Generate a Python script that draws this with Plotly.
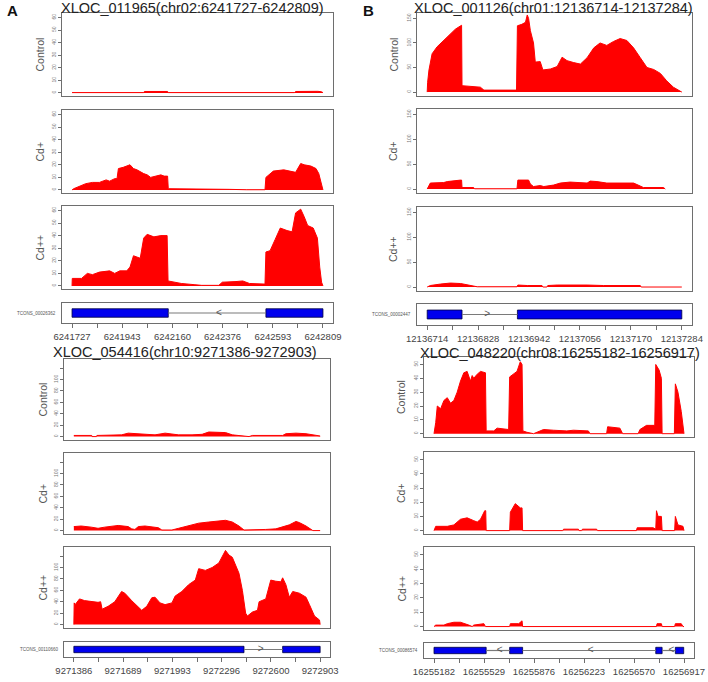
import plotly.graph_objects as go

W, H = 708, 682

# ---------------- DATA ----------------
# Panel A (top): XLOC_011965
A1_TITLE = "XLOC_011965(chr02:6241727-6242809)"
A1_START, A1_END = 6241727, 6242809
A1_TICKS = [6241727, 6241943, 6242160, 6242376, 6242593, 6242809]
A1_YTICKS = [0, 10, 20, 30, 40, 50, 60]
A1_CTRL_OFF = [0, 309, 312, 412, 415, 960, 964, 1040, 1060, 1075, 1082]
A1_CTRL_VAL = [0.3, 0.3, 1.2, 1.2, 0.3, 0.3, 1.2, 1.5, 1.3, 1.0, 0.3]
A1_CD1_OFF = [0, 7, 59, 88, 118, 147, 162, 184, 194, 200, 221, 250, 265, 280, 309, 324, 339, 361,
              383, 397, 412, 415, 471, 500, 559, 618, 677, 751, 832, 836, 854, 868, 913, 942, 964,
              986, 1001, 1030, 1052, 1064, 1074, 1082]
A1_CD1_VAL = [0, 1, 5, 6, 6, 8, 7, 9, 9, 17, 18, 20, 17, 16, 13, 12, 10, 11,
              12, 11, 11, 1, 1, 0.6, 0.5, 0.7, 0.5, 0.2, 0.2, 10, 13, 15, 16, 15, 14,
              21, 20, 19, 17, 13, 5, 0]
A1_CD2_OFF = [0, 1, 41, 66, 88, 118, 162, 184, 206, 236, 250, 265, 294, 309, 324, 353, 383, 410,
              414, 442, 471, 530, 559, 633, 648, 707, 736, 765, 832, 836, 854, 876, 898, 927, 949,
              964, 986, 1001, 1016, 1040, 1058, 1068, 1076, 1082]
A1_CD2_VAL = [0, 6, 6, 10, 9, 11, 12, 10, 12, 12, 15, 24, 22, 38, 41, 39, 40, 40,
              4, 3, 2, 1, 0.5, 0.5, 3, 3.5, 4, 2, 1.5, 27, 28, 37, 46, 44, 43,
              58, 61, 55, 48, 46, 38, 15, 3, 0]
A1_EXON_START = [0, 836]
A1_EXON_END = [415, 1082]
A1_ARROW = [633]
A1_STRAND = "-"
A1_TX = "TCONS_00026362"

# Panel B (top): XLOC_001126
B1_TITLE = "XLOC_001126(chr01:12136714-12137284)"
B1_START, B1_END = 12136714, 12137284
B1_TICKS = [12136714, 12136828, 12136942, 12137056, 12137170, 12137284]
B1_YTICKS = [0, 50, 100, 150]
B1_CTRL_OFF = [0, 1, 4, 11, 22, 37, 52, 63, 75, 77, 78, 97, 119, 127, 156, 186, 200, 202, 212, 220,
               224, 227, 231, 238, 242, 253, 259, 276, 291, 302, 313, 328, 343, 358, 373, 387, 402,
               417, 432, 447, 462, 477, 492, 507, 522, 536, 551, 566, 570]
B1_CTRL_VAL = [0, 20, 45, 78, 92, 105, 119, 128, 135, 136, 13, 12, 10, 4, 4, 3, 4, 135, 138, 142,
               157, 150, 125, 100, 61, 62, 45, 47, 52, 71, 64, 60, 57, 70, 90, 100, 95,
               103, 109, 105, 90, 70, 50, 46, 38, 23, 10, 2, 0]
B1_CD1_OFF = [0, 4, 7, 37, 45, 75, 77, 78, 104, 106, 201, 203, 227, 231, 238, 253, 261, 283, 298,
              320, 343, 358, 365, 380, 402, 432, 462, 477, 484, 529, 533]
B1_CD1_VAL = [0, 8, 12, 13, 15, 18, 18, 3, 3, 0.5, 0.5, 18, 18, 10, 5, 7, 5, 8, 12,
              14, 13, 12, 16, 15, 12, 12, 12, 6, 3, 3, 0]
B1_CD2_OFF = [0, 4, 7, 30, 52, 75, 89, 112, 201, 203, 224, 257, 259, 268, 270, 291, 358, 395,
              477, 479, 570]
B1_CD2_VAL = [0, 1, 3, 6, 8, 7, 4, 0.5, 0.5, 4, 3, 3, 0, 0, 3, 4, 4, 3,
              3, 0, 0]
B1_EXON_START = [0, 202]
B1_EXON_END = [78, 570]
B1_ARROW = [134]
B1_STRAND = "+"
B1_TX = "TCONS_00002447"

# Panel A (bottom): XLOC_054416
A2_TITLE = "XLOC_054416(chr10:9271386-9272903)"
A2_START, A2_END = 9271386, 9272903
A2_TICKS = [9271386, 9271689, 9271993, 9272296, 9272600, 9272903]
A2_YTICKS = [0, 20, 40, 60, 80, 100, 120]
A2_CTRL_OFF = [0, 110, 112, 140, 142, 231, 294, 335, 376, 438, 500, 562, 604, 645, 728, 790, 831,
               893, 934, 976, 1038, 1079, 1100, 1286, 1306, 1368, 1430, 1472, 1517]
A2_CTRL_VAL = [2, 2, 0, 0, 2, 2, 3, 6, 5, 4, 3, 6, 5, 3, 3, 4, 8,
               8, 7, 3, 1, 0, 2, 2, 5, 6, 5, 3, 1]
A2_CD1_OFF = [0, 45, 107, 149, 190, 231, 273, 335, 356, 376, 397, 438, 480, 521, 542, 604, 645,
              686, 728, 769, 831, 872, 934, 976, 1017, 1048, 1100, 1182, 1244, 1286, 1327, 1368,
              1389, 1430, 1461, 1472, 1517]
A2_CD1_VAL = [7, 8, 6, 4, 6, 8, 9, 7, 3, 2, 7, 8, 7, 5, 1, 1, 4,
              7, 10, 13, 15, 16, 18, 15, 8, 1, 1, 2, 3, 6, 10, 16,
              14, 8, 3, 0, 0]
A2_CD2_OFF = [0, 2, 8, 35, 66, 107, 149, 165, 174, 211, 252, 294, 314, 356, 397, 418, 449, 480,
              500, 531, 562, 604, 624, 665, 707, 748, 769, 810, 852, 893, 934, 955, 976, 996,
              1017, 1038, 1058, 1069, 1100, 1131, 1141, 1182, 1213, 1244, 1275, 1286, 1306,
              1327, 1348, 1389, 1430, 1451, 1482, 1513, 1517]
A2_CD2_VAL = [0, 38, 35, 45, 42, 40, 39, 40, 27, 32, 40, 58, 55, 42, 30, 25, 32, 47,
              48, 38, 35, 38, 50, 58, 70, 78, 98, 95, 100, 108, 130, 122, 118, 105,
              90, 60, 20, 15, 22, 25, 40, 45, 78, 76, 75, 82, 70,
              48, 58, 55, 48, 35, 15, 8, 0]
A2_EXON_START = [0, 1286]
A2_EXON_END = [1048, 1517]
A2_ARROW = [1151]
A2_STRAND = "+"
A2_TX = "TCONS_00110660"

# Panel B (bottom): XLOC_048220
B2_TITLE = "XLOC_048220(chr08:16255182-16256917)"
B2_START, B2_END = 16255182, 16256917
B2_TICKS = [16255182, 16255529, 16255876, 16256223, 16256570, 16256917]
B2_YTICKS = [0, 10, 20, 30, 40, 50]
B2_CTRL_OFF = [0, 12, 23, 46, 69, 92, 115, 138, 161, 184, 207, 230, 253, 265, 276, 300, 323, 346,
               357, 362, 415, 438, 507, 518, 525, 576, 599, 611, 617, 645, 691, 714, 760, 829,
               922, 968, 1071, 1083, 1198, 1205, 1290, 1309, 1417, 1429, 1475, 1532, 1539, 1562,
               1578, 1583, 1668, 1675, 1693, 1716, 1728, 1735]
B2_CTRL_VAL = [0, 8, 20, 18, 24, 26, 22, 24, 30, 38, 44, 45, 38, 42, 40, 43, 45, 44,
               44, 2, 2, 4, 3, 3, 41, 45, 52, 50, 2, 1, 0, 1, 3, 2.5,
               2, 2.5, 2, 0, 0, 5, 4, 0, 0, 3, 6, 6, 50, 46,
               40, 0, 0, 36, 30, 16, 8, 0]
B2_CD1_OFF = [0, 12, 92, 138, 184, 230, 276, 300, 323, 352, 359, 362, 525, 530, 564, 599, 611, 615,
              894, 899, 1002, 1007, 1025, 1030, 1129, 1134, 1405, 1410, 1521, 1539, 1544, 1555,
              1578, 1583, 1670, 1675, 1693, 1728, 1735]
B2_CD1_VAL = [0, 3, 3, 4, 8, 9, 7, 6, 8, 14, 14, 0, 0, 13, 19, 16, 16, 0,
              0, 1, 1, 0, 0, 1, 1, 0, 0, 2, 2, 1, 14, 10,
              10, 0, 0, 10, 4, 3, 0]
B2_CD2_OFF = [0, 12, 69, 92, 138, 184, 242, 265, 276, 346, 357, 525, 530, 588, 611, 615, 1544, 1548,
              1578, 1583, 1670, 1675, 1716, 1728, 1735]
B2_CD2_VAL = [0, 1, 1, 2, 3, 3, 1, 0, 1, 2, 0, 0, 2, 2, 4, 0, 0, 2,
              2, 0, 0, 2, 2, 0, 0]
B2_EXON_START = [0, 525, 1539, 1675]
B2_EXON_END = [362, 615, 1583, 1733]
B2_ARROW = [456, 1087, 1647]
B2_STRAND = "-"
B2_TX = "TCONS_00086574"

TRACK_NAMES = ["Control", "Cd+", "Cd++"]

# ---------------- LAYOUT (pixel boxes) ----------------
panels = [
    dict(title=A1_TITLE, start=A1_START, end=A1_END, ticks=A1_TICKS, yticks=A1_YTICKS,
         yrange=[-2.4, 63.5], ytext=None,
         tracks=[(A1_CTRL_OFF, A1_CTRL_VAL), (A1_CD1_OFF, A1_CD1_VAL), (A1_CD2_OFF, A1_CD2_VAL)],
         exs=A1_EXON_START, exe=A1_EXON_END, arrows=A1_ARROW, strand=A1_STRAND, tx=A1_TX,
         xl=62, xr=333, rows=[(13, 96), (110, 193), (206, 289), (303, 323)],
         title_pos=(192, 8), ylab_x=39),
    dict(title=B1_TITLE, start=B1_START, end=B1_END, ticks=B1_TICKS, yticks=B1_YTICKS,
         yrange=[-8, 161], ytext=None,
         tracks=[(B1_CTRL_OFF, B1_CTRL_VAL), (B1_CD1_OFF, B1_CD1_VAL), (B1_CD2_OFF, B1_CD2_VAL)],
         exs=B1_EXON_START, exe=B1_EXON_END, arrows=B1_ARROW, strand=B1_STRAND, tx=B1_TX,
         xl=417, xr=692, rows=[(13, 96), (109, 193), (207, 291), (304, 325)],
         title_pos=(553, 8), ylab_x=393),
    dict(title=A2_TITLE, start=A2_START, end=A2_END, ticks=A2_TICKS, yticks=A2_YTICKS,
         yrange=[-6, 136], ytext=[str(v) if v < 120 else "" for v in A2_YTICKS],
         tracks=[(A2_CTRL_OFF, A2_CTRL_VAL), (A2_CD1_OFF, A2_CD1_VAL), (A2_CD2_OFF, A2_CD2_VAL)],
         exs=A2_EXON_START, exe=A2_EXON_END, arrows=A2_ARROW, strand=A2_STRAND, tx=A2_TX,
         xl=64, xr=330, rows=[(359, 440), (453, 534), (547, 628), (642, 657)],
         title_pos=(185, 352), ylab_x=42),
    dict(title=B2_TITLE, start=B2_START, end=B2_END, ticks=B2_TICKS, yticks=B2_YTICKS,
         yrange=[-2.4, 55.4], ytext=None,
         tracks=[(B2_CTRL_OFF, B2_CTRL_VAL), (B2_CD1_OFF, B2_CD1_VAL), (B2_CD2_OFF, B2_CD2_VAL)],
         exs=B2_EXON_START, exe=B2_EXON_END, arrows=B2_ARROW, strand=B2_STRAND, tx=B2_TX,
         xl=424, xr=694, rows=[(357, 437), (452, 534), (547, 630), (643, 658)],
         title_pos=(560, 353), ylab_x=401),
]

FONT = "Liberation Sans, Arial, sans-serif"
BOX = "#6e6e6e"
fig = go.Figure()
layout = {}
annotations = []

def fx(px):
    return px / W

def fy(py):
    return 1 - py / H

def ann(x, y, text, size, color, angle=0, xanchor="center"):
    return dict(x=fx(x), y=fy(y), xref="paper", yref="paper", text=text, showarrow=False,
                xanchor=xanchor, yanchor="middle", textangle=angle,
                font=dict(size=size, color=color, family=FONT))

ax = 0
for p in panels:
    span = p["end"] - p["start"]
    xr = [p["start"] - 0.04 * span, p["end"] + 0.04 * span]
    for r in range(4):
        ax += 1
        top, bot = p["rows"][r]
        xa = dict(domain=[fx(p["xl"]), fx(p["xr"])], range=xr, anchor=f"y{ax}",
                  showline=True, mirror=True, linecolor=BOX, linewidth=1.4,
                  showgrid=False, zeroline=False, automargin=False)
        ya = dict(domain=[fy(bot), fy(top)], anchor=f"x{ax}", showline=True, mirror=True,
                  linecolor=BOX, linewidth=1.4, showgrid=False, zeroline=False,
                  automargin=False)
        if r < 3:
            offs, vals = p["tracks"][r]
            fig.add_trace(go.Scatter(
                x=[p["start"] + o for o in offs], y=vals, mode="lines",
                fill="tozeroy", fillcolor="#ff0000",
                line=dict(color="#ff0000", width=1), hoverinfo="skip",
                xaxis=f"x{ax}", yaxis=f"y{ax}", showlegend=False))
            xa.update(showticklabels=False, ticks="")
            ya.update(range=p["yrange"], tickvals=p["yticks"],
                      ticktext=p["ytext"] if p["ytext"] else [str(v) for v in p["yticks"]],
                      ticks="outside", ticklen=3, tickwidth=1, tickcolor=BOX,
                      tickangle=-90, tickfont=dict(size=5, color="#777", family=FONT))
            annotations.append(ann(p["ylab_x"], (top + bot) / 2, TRACK_NAMES[r], 10.5,
                                   "#555", angle=-90))
        else:
            # intron segments only between exons
            ix, iy = [], []
            for e, s in zip(p["exe"][:-1], p["exs"][1:]):
                ix += [p["start"] + e, p["start"] + s, None]
                iy += [0, 0, None]
            fig.add_trace(go.Scatter(
                x=ix, y=iy, mode="lines", line=dict(color="#7a7a7a", width=1.2),
                hoverinfo="skip", xaxis=f"x{ax}", yaxis=f"y{ax}", showlegend=False))
            sym = "<" if p["strand"] == "-" else ">"
            fig.add_trace(go.Scatter(
                x=[p["start"] + a for a in p["arrows"]], y=[0] * len(p["arrows"]),
                mode="text", text=[sym] * len(p["arrows"]), textposition="middle center",
                textfont=dict(size=10, color="#555", family=FONT),
                hoverinfo="skip", xaxis=f"x{ax}", yaxis=f"y{ax}", showlegend=False))
            fig.add_trace(go.Bar(
                base=[p["start"] + s for s in p["exs"]],
                x=[e - s for s, e in zip(p["exs"], p["exe"])],
                y=[0] * len(p["exs"]), orientation="h", width=0.85,
                marker=dict(color="#0000ee", line=dict(color="#000040", width=0.8)),
                hoverinfo="skip", xaxis=f"x{ax}", yaxis=f"y{ax}", showlegend=False))
            tv, tt = [], []
            for i, t in enumerate(p["ticks"]):
                tv.append(t)
                tt.append(str(t))
                if i < len(p["ticks"]) - 1:
                    tv.append((t + p["ticks"][i + 1]) / 2)
                    tt.append("")
            xa.update(tickvals=tv, ticktext=tt, ticks="outside", ticklen=4, tickwidth=1,
                      tickcolor=BOX, tickfont=dict(size=9.5, color="#444", family=FONT))
            ya.update(range=[-1, 1], showticklabels=False, ticks="")
            annotations.append(ann(p["xl"] - 4, (top + bot) / 2, p["tx"], 4.5, "#555",
                                   xanchor="right"))
        layout[f"xaxis{ax}"] = xa
        layout[f"yaxis{ax}"] = ya
    annotations.append(ann(p["title_pos"][0], p["title_pos"][1], p["title"], 14.5, "#222"))

annotations.append(ann(12, 11, "<b>A</b>", 15, "#111"))
annotations.append(ann(368, 11, "<b>B</b>", 15, "#111"))

fig.update_layout(width=W, height=H, margin=dict(l=0, r=0, t=0, b=0, autoexpand=False),
                  paper_bgcolor="white", plot_bgcolor="white", barmode="overlay",
                  annotations=annotations, showlegend=False, **layout)
fig.write_html("out.html", config={"displayModeBar": False},
               post_script="document.body.style.margin='0';document.body.style.overflow='hidden';")
